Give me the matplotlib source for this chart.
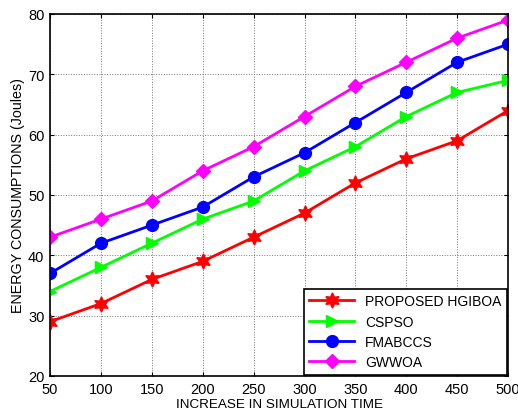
#!/usr/bin/env python3

import numpy as np
import matplotlib
matplotlib.use('Agg')
import matplotlib.pyplot as plt

plt.rcParams['font.family'] = ['Liberation Sans', 'DejaVu Sans']

sim_time = [50, 100, 150, 200, 250, 300, 350, 400, 450, 500]

proposed = [29, 32, 36, 39, 43, 47, 52, 56, 59, 64]
cspso = [34, 38, 42, 46, 49, 54, 58, 63, 67, 69]
fmabccs = [37, 42, 45, 48, 53, 57, 62, 67, 72, 75]
gwwoa = [43, 46, 49, 54, 58, 63, 68, 72, 76, 79]

labels = ['PROPOSED HGIBOA', 'CSPSO', 'FMABCCS', 'GWWOA']


fig = plt.figure(figsize=(5.18, 4.14), dpi=100)
ax = fig.add_axes([0.0965, 0.0894, 0.8845, 0.8744])

ax.plot(sim_time, proposed, color='#ff0000', lw=2, marker=(6, 1, 0), ms=11, label=labels[0])
ax.plot(sim_time, cspso, color='#00ff00', lw=2, marker='>', ms=9, label=labels[1])
ax.plot(sim_time, fmabccs, color='#0000ff', lw=2, marker='o', ms=8.5, label=labels[2])
ax.plot(sim_time, gwwoa, color='#ff00ff', lw=2, marker='D', ms=7, label=labels[3])

ax.set_xlim(50, 500)
ax.set_ylim(20, 80)
ax.set_xticks(sim_time)
ax.set_yticks(np.arange(20, 81, 10))
ax.tick_params(direction='in', top=True, right=True, labelsize=10.5, length=3, pad=4)
ax.grid(True, color='#777777', ls=':', lw=0.7)
for s in ax.spines.values():
	s.set_linewidth(1.2)

ax.set_xlabel('INCREASE IN SIMULATION TIME', fontsize=9.7, labelpad=2)
ax.set_ylabel('ENERGY CONSUMPTIONS (Joules)', fontsize=10.3, labelpad=2)

leg = ax.legend(loc='lower right', fontsize=10, fancybox=False, framealpha=1,
	edgecolor='black', borderaxespad=0.1, handlelength=3.2, labelspacing=0.45)
leg.get_frame().set_linewidth(1.2)

plt.savefig('out.png')
